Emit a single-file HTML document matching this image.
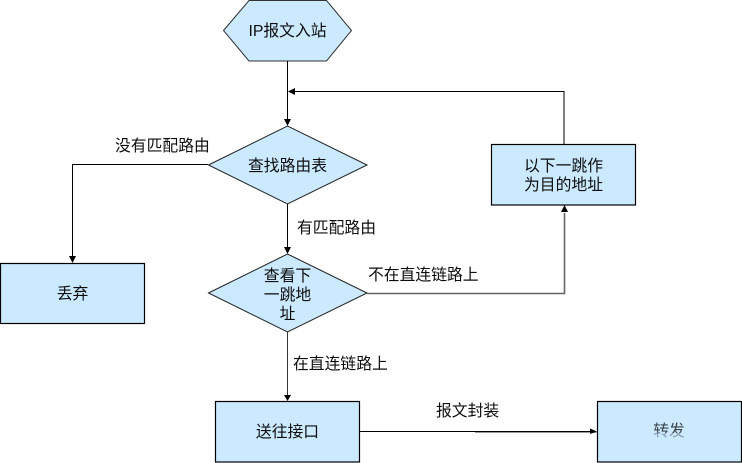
<!DOCTYPE html>
<html><head><meta charset="utf-8">
<style>
html,body{margin:0;padding:0;background:#fff;width:742px;height:463px;overflow:hidden}
svg{display:block}
text{font-family:"Liberation Sans","Noto Sans CJK SC",sans-serif;font-size:15.8px;fill:#0d0d0d;text-anchor:middle}
text.l{text-anchor:start}
</style></head><body>
<svg width="742" height="463" viewBox="0 0 742 463" xmlns="http://www.w3.org/2000/svg">
<g fill="#cceaff" stroke="#000" stroke-width="1">
<polygon points="223.5,30.5 249,0.5 326.5,0.5 351.5,30.5 326.5,61 249,61" stroke="#333"/>
<polygon points="208.5,165 287.5,126 367,165 287.5,204" stroke="#222"/>
<polygon points="208.5,293 287.5,254 367,293 287.5,332" stroke="#222"/>
<rect x="0.5" y="263.5" width="144" height="60" stroke-width="1.2"/>
<rect x="491.5" y="144.5" width="144" height="60.5" stroke-width="1.2"/>
<rect x="215.5" y="401.5" width="144" height="60.5" stroke-width="1.2"/>
<rect x="597.5" y="401.5" width="144" height="60.5" stroke-width="1.2"/>
</g>
<g fill="none" stroke="#000" stroke-width="1">
<path d="M287.5 61V119"/>
<path d="M564 144.5V91.5H295"/>
<path d="M208 164.5H72.5V256"/>
<path d="M287.5 204V247"/>
<path d="M287.5 332V395" stroke="#333"/>
<path d="M367 293.5H564.5V213" stroke="#666" stroke-width="1.6"/>
<path d="M360 431.5H592"/>
<path d="M475 432.5H597" stroke="#999"/>
</g>
<g fill="#000">
<polygon points="284,119 291,119 287.5,126"/>
<polygon points="288,91.5 295,88 295,95"/>
<polygon points="69,256 76,256 72.5,263"/>
<polygon points="284,247 291,247 287.5,254"/>
<polygon points="284,395 291,395 287.5,401"/>
<polygon points="561,212 568,212 564.5,205"/>
<polygon points="590,428.5 597,431.5 590,434"/>
</g>
<text x="287.5" y="36">IP报文入站</text>
<text x="287.5" y="171">查找路由表</text>
<text x="287.5" y="281">查看下</text>
<text x="287.5" y="300">一跳地</text>
<text x="287.5" y="319">址</text>
<text x="72.5" y="299">丢弃</text>
<text x="563.5" y="171">以下一跳作</text>
<text x="563.5" y="190">为目的地址</text>
<text x="287.5" y="437">送往接口</text>
<text x="669" y="436" opacity="0.75">转发</text>
<rect x="650" y="433" width="38" height="8" fill="#cceaff" opacity="0.55"/>
<text class="l" x="115" y="151">没有匹配路由</text>
<text class="l" x="297" y="233">有匹配路由</text>
<text class="l" x="368" y="280">不在直连链路上</text>
<text class="l" x="293" y="369">在直连链路上</text>
<text class="l" x="436" y="416">报文封装</text>
</svg>
</body></html>
